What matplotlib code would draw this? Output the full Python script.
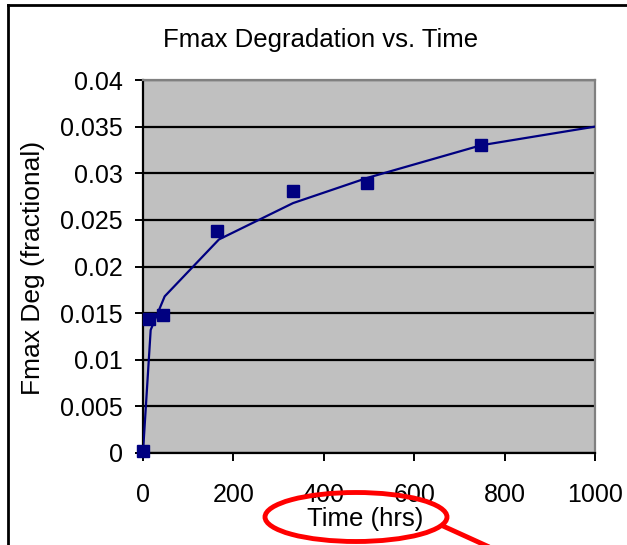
import matplotlib
matplotlib.use("Agg")
import matplotlib.pyplot as plt
from matplotlib.patches import Ellipse
from matplotlib.lines import Line2D

plt.rcParams['font.family'] = ['Liberation Sans', 'DejaVu Sans']

# measured points
time_hrs = [0, 13, 44, 164, 332, 496, 748]
fmax_deg = [0.0002, 0.0144, 0.0148, 0.0238, 0.0281, 0.0290, 0.0330]

# fitted curve
fit_hrs = [0, 17, 48, 168, 332, 496, 748, 1000]
fit_deg = [0.0001, 0.0132, 0.0168, 0.0229, 0.0268, 0.0295, 0.0330, 0.0350]

x_ticks = [0, 200, 400, 600, 800, 1000]
y_ticks = [0, 0.005, 0.01, 0.015, 0.02, 0.025, 0.03, 0.035, 0.04]
y_labels = ['0', '0.005', '0.01', '0.015', '0.02', '0.025', '0.03', '0.035', '0.04']

W, H = 627, 545
fig = plt.figure(figsize=(W/100, H/100), dpi=100)
ax = fig.add_axes([143/W, 1-453/H, 452/W, 373/H])
ax.set_facecolor('#C0C0C0')

ax.plot(fit_hrs, fit_deg, color='#000080', linewidth=1.6, zorder=3)
ax.plot(time_hrs, fmax_deg, linestyle='none', marker='s', markersize=8.5,
        color='#000080', zorder=4, clip_on=False)

ax.set_xlim(0, 1000)
ax.set_ylim(0, 0.04)
ax.set_xticks(x_ticks)
ax.set_xticklabels([str(t) for t in x_ticks])
ax.set_yticks(y_ticks)
ax.set_yticklabels(y_labels)
ax.yaxis.grid(True, color='black', linewidth=1.6)
ax.set_axisbelow(True)
ax.tick_params(direction='out', length=6, width=1.4, colors='black',
               labelsize=18)
ax.tick_params(axis='y', pad=8.5)
ax.tick_params(axis='x', pad=15.5)
for s in ['top', 'right']:
    ax.spines[s].set_color('#808080')
    ax.spines[s].set_linewidth(1.6)
for s in ['left', 'bottom']:
    ax.spines[s].set_color('black')
    ax.spines[s].set_linewidth(1.6)

fig.text(321/W, 1-40/H, 'Fmax Degradation vs. Time', ha='center', va='center', fontsize=18.5)
fig.text(33/W, 1-268/H, 'Fmax Deg (fractional)', ha='center', va='center',
         rotation=90, fontsize=19)
fig.text(365/W, 1-519/H, 'Time (hrs)', ha='center', va='center', fontsize=18.5)

# outer chart frame
fig.add_artist(Line2D([8/W, 8/W], [0, 1-5/H], color='black', linewidth=2))
fig.add_artist(Line2D([8/W, 1], [1-5/H, 1-5/H], color='black', linewidth=2))

# red highlight around the axis title
fig.add_artist(Ellipse((356/W, 1-517/H), 182/W, 49/H, fill=False,
                       edgecolor='#FF0000', linewidth=3.5))
fig.add_artist(Line2D([443/W, 487/W], [1-526/H, 1-546/H], color='#FF0000',
                      linewidth=3.5))

fig.savefig('out.png', dpi=100)
